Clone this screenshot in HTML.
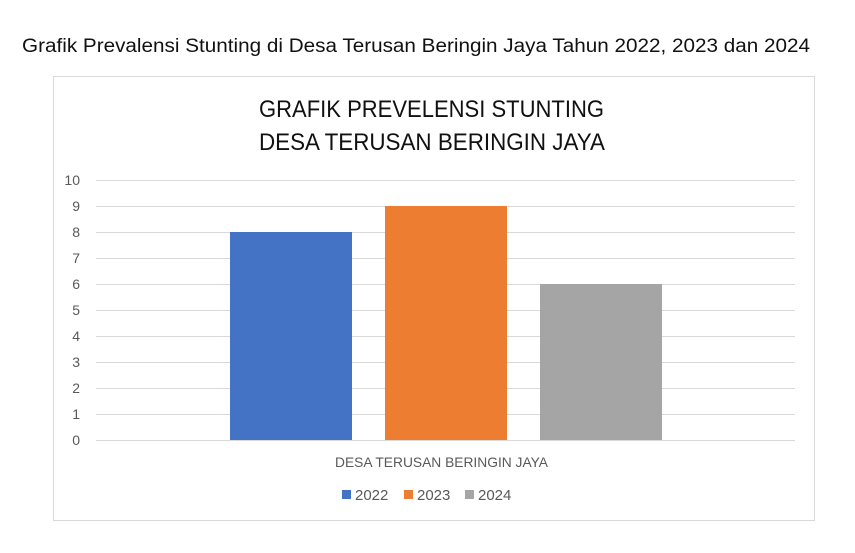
<!DOCTYPE html>
<html><head><style>body{margin:0;background:#fff}svg{display:block}</style></head>
<body>
<svg width="855" height="553" xmlns="http://www.w3.org/2000/svg" font-family="Liberation Sans, sans-serif">
<rect width="855" height="553" fill="#fff"/>
<text x="22" y="52" font-size="19" textLength="788" lengthAdjust="spacingAndGlyphs" fill="#111">Grafik Prevalensi Stunting di Desa Terusan Beringin Jaya Tahun 2022, 2023 dan 2024</text>
<rect x="53.5" y="76.5" width="761" height="444" fill="#fff" stroke="#d9d9d9" stroke-width="1"/>
<text x="259" y="117" font-size="24" textLength="345" lengthAdjust="spacingAndGlyphs" fill="#111">GRAFIK PREVELENSI STUNTING</text>
<text x="259" y="150" font-size="24" textLength="346" lengthAdjust="spacingAndGlyphs" fill="#111">DESA TERUSAN BERINGIN JAYA</text>
<g stroke="#d9d9d9" stroke-width="1">
<line x1="96" x2="795" y1="180.5" y2="180.5"/><line x1="96" x2="795" y1="206.5" y2="206.5"/>
<line x1="96" x2="795" y1="232.5" y2="232.5"/><line x1="96" x2="795" y1="258.5" y2="258.5"/>
<line x1="96" x2="795" y1="284.5" y2="284.5"/><line x1="96" x2="795" y1="310.5" y2="310.5"/>
<line x1="96" x2="795" y1="336.5" y2="336.5"/><line x1="96" x2="795" y1="362.5" y2="362.5"/>
<line x1="96" x2="795" y1="388.5" y2="388.5"/><line x1="96" x2="795" y1="414.5" y2="414.5"/>
<line x1="96" x2="795" y1="440.5" y2="440.5"/>
</g>
<g font-size="14" fill="#595959" text-anchor="end">
<text x="80" y="185">10</text><text x="80" y="211">9</text><text x="80" y="237">8</text>
<text x="80" y="263">7</text><text x="80" y="289">6</text><text x="80" y="315">5</text>
<text x="80" y="341">4</text><text x="80" y="367">3</text><text x="80" y="393">2</text>
<text x="80" y="419">1</text><text x="80" y="445">0</text>
</g>
<rect x="230" y="232" width="122" height="208" fill="#4472c4"/>
<rect x="385" y="206" width="122" height="234" fill="#ed7d31"/>
<rect x="540" y="284" width="122" height="156" fill="#a5a5a5"/>
<text x="335" y="467" font-size="14" textLength="213" lengthAdjust="spacingAndGlyphs" fill="#595959">DESA TERUSAN BERINGIN JAYA</text>
<g font-size="15" fill="#595959">
<rect x="342" y="490" width="9" height="9" fill="#4472c4"/><text x="355" y="500">2022</text>
<rect x="404" y="490" width="9" height="9" fill="#ed7d31"/><text x="417" y="500">2023</text>
<rect x="465" y="490" width="9" height="9" fill="#a5a5a5"/><text x="478" y="500">2024</text>
</g>
</svg>
</body></html>
